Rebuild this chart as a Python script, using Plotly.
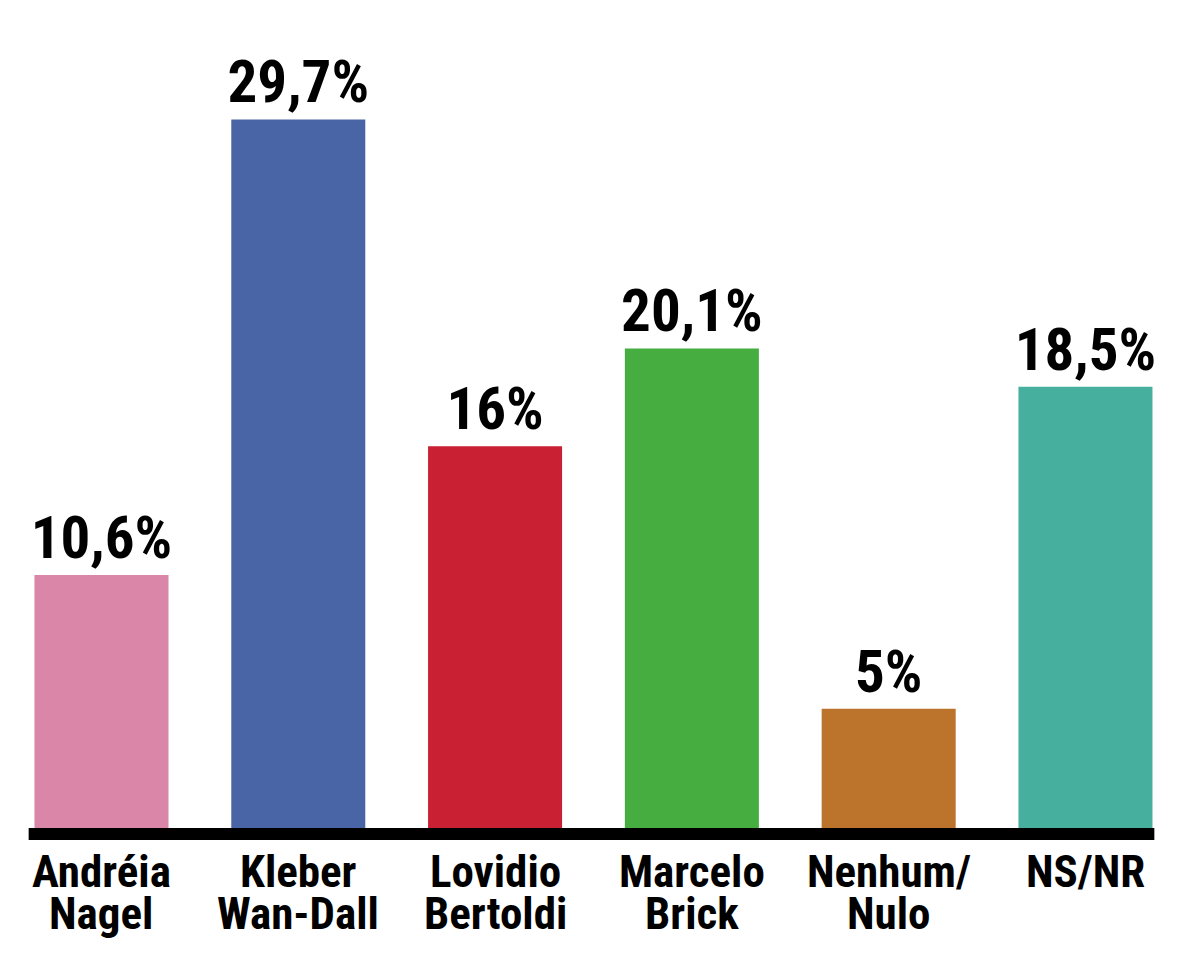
import plotly.graph_objects as go

# dados da pesquisa
candidatos = ["Andréia<br>Nagel", "Kleber<br>Wan-Dall", "Lovidio<br>Bertoldi",
              "Marcelo<br>Brick", "Nenhum/<br>Nulo", "NS/NR"]
percentuais = [10.6, 29.7, 16, 20.1, 5, 18.5]
cores = ["#D986A8", "#4A65A6", "#C92033", "#46AE41", "#BC732B", "#47AF9E"]

rotulos = [f"{v:g}".replace(".", ",") + "%" for v in percentuais]
fonte = ("Noto Sans ExtraCondensed, Noto Sans Condensed, Roboto Condensed, "
         "Liberation Sans Narrow, DejaVu Sans Condensed, sans-serif")

fig = go.Figure(go.Bar(
    x=list(range(len(candidatos))),
    y=percentuais,
    marker=dict(color=cores, line=dict(width=0)),
    text=rotulos,
    textposition="outside",
    textfont=dict(family=fonte, size=59, color="black", weight="bold"),
    constraintext="none",
    cliponaxis=False,
    hoverinfo="skip",
))

# nomes em duas linhas (espacamento curto)
for i, nome in enumerate(candidatos):
    linhas = nome.split("<br>")
    for j, linha in enumerate(linhas):
        fig.add_annotation(
            x=i, y=0, xref="x", yref="paper",
            text="<b>" + linha + "</b>", showarrow=False,
            yanchor="top", yshift=-3 - 42 * j,
            font=dict(family=fonte, size=45, color="black"),
        )

# linha preta da base
fig.add_shape(type="rect", xref="x", yref="y",
              x0=-0.37, x1=5.35, y0=-0.503, y1=0,
              fillcolor="black", line=dict(width=0), layer="above")

fig.update_layout(
    width=1200, height=967,
    margin=dict(l=0, r=8, t=0, b=135),
    plot_bgcolor="white", paper_bgcolor="white",
    bargap=0.319,
    showlegend=False,
    font=dict(family=fonte),
    xaxis=dict(visible=False, range=[-0.475, 5.582]),
    yaxis=dict(visible=False, range=[-0.503, 34.37]),
)

fig.write_html("out.html")
